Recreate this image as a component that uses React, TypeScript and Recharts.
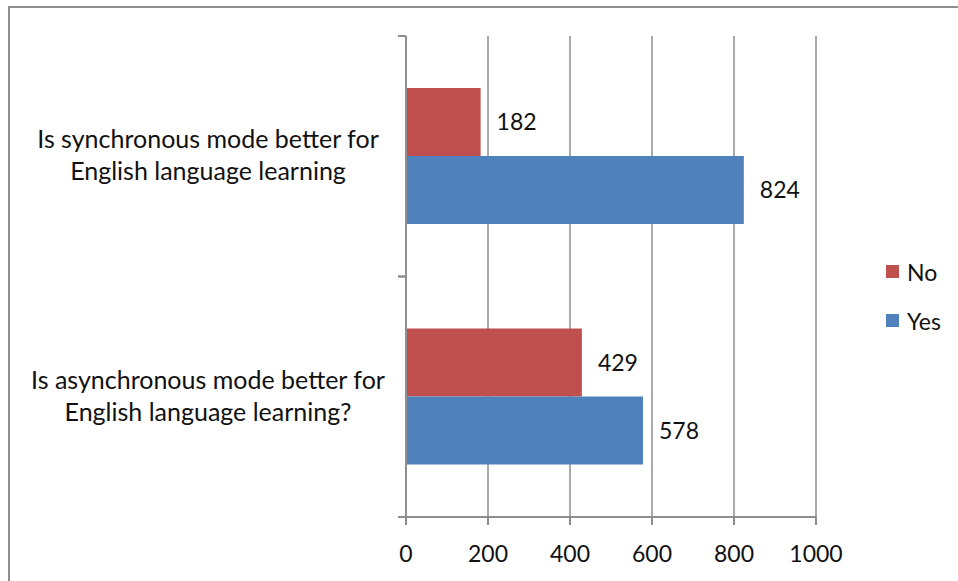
import React from "react";
import {
  BarChart,
  Bar,
  XAxis,
  YAxis,
  CartesianGrid,
  Legend,
  LabelList,
} from "recharts";

// questions, top to bottom, each split on its two lines
const questions = [
  ["Is synchronous mode better for", "English language learning"],
  ["Is asynchronous mode better for", "English language learning?"],
];
const noValues = [182, 429];
const yesValues = [824, 578];
const xTicks = [0, 200, 400, 600, 800, 1000];

const data = questions.map((q, i) => ({
  question: q.join("|"),
  No: noValues[i],
  Yes: yesValues[i],
}));

const FONT = "Lato, 'Open Sans', sans-serif";
const AXIS = "#8e8e8e";
const PLOT_LEFT = 406;

// question label plus Excel-style tick marks on the category boundaries
function QuestionTick(props: any) {
  const { y, payload } = props;
  const lines = String(payload.value).split("|");
  const half = Number(payload.offset) || 0;
  return (
    <g>
      {half > 0 &&
        [y - half, y + half].map((yy, i) => (
          <line
            key={i}
            x1={PLOT_LEFT - 8}
            x2={PLOT_LEFT}
            y1={yy}
            y2={yy}
            stroke={AXIS}
            strokeWidth={2}
          />
        ))}
      <text
        x={208}
        y={y}
        textAnchor="middle"
        fontFamily={FONT}
        fontSize={25}
        fill="#111"
      >
        {lines.map((ln, i) => (
          <tspan key={i} x={208} dy={i === 0 ? -8 : 32}>
            {ln}
          </tspan>
        ))}
      </text>
    </g>
  );
}

function LegendBox(props: any) {
  const items = props.payload || [];
  return (
    <div style={{ fontFamily: FONT, fontSize: 23, color: "#111" }}>
      {items.map((it: any) => (
        <div
          key={it.value}
          style={{ display: "flex", alignItems: "center", height: 49 }}
        >
          <span
            style={{
              width: 13,
              height: 13,
              background: it.color,
              marginRight: 8,
              display: "inline-block",
            }}
          />
          {it.value}
        </div>
      ))}
    </div>
  );
}

export default function App() {
  return (
    <div
      style={{
        position: "absolute",
        left: 0,
        top: 0,
        width: 958,
        height: 581,
        overflow: "hidden",
        background: "#fff",
      }}
    >
      <div
        style={{
          position: "absolute",
          left: 8,
          top: 6,
          width: 1000,
          height: 1000,
          border: "2px solid #8e8e8e",
        }}
      />
      <div style={{ position: "absolute", left: 0, top: 0 }}>
        <BarChart
          width={958}
          height={581}
          layout="vertical"
          data={data}
          margin={{ top: 36, right: 142, bottom: 0, left: 0 }}
          barCategoryGap="21.6%"
          barGap={0}
        >
          <CartesianGrid
            horizontal={false}
            stroke={AXIS}
            strokeWidth={1.5}
          />
          <YAxis
            type="category"
            dataKey="question"
            width={PLOT_LEFT}
            tick={<QuestionTick />}
            tickLine={false}
            axisLine={{ stroke: AXIS, strokeWidth: 2 }}
          />
          <XAxis
            type="number"
            domain={[0, 1000]}
            ticks={xTicks}
            height={64}
            tickSize={8}
            tickMargin={21}
            tickLine={{ stroke: AXIS, strokeWidth: 2 }}
            axisLine={{ stroke: AXIS, strokeWidth: 2 }}
            tick={{ fontFamily: FONT, fontSize: 23, fill: "#111" }}
          />
          <Legend
            layout="vertical"
            align="center"
            verticalAlign="middle"
            wrapperStyle={{ left: 886, top: 247, width: 70 }}
            content={<LegendBox />}
          />
          <Bar dataKey="No" fill="#C0504D" isAnimationActive={false}>
            <LabelList
              dataKey="No"
              position="right"
              offset={16}
              fill="#111"
              fontFamily={FONT}
              fontSize={23}
            />
          </Bar>
          <Bar dataKey="Yes" fill="#4F81BD" isAnimationActive={false}>
            <LabelList
              dataKey="Yes"
              position="right"
              offset={16}
              fill="#111"
              fontFamily={FONT}
              fontSize={23}
            />
          </Bar>
        </BarChart>
      </div>
    </div>
  );
}
